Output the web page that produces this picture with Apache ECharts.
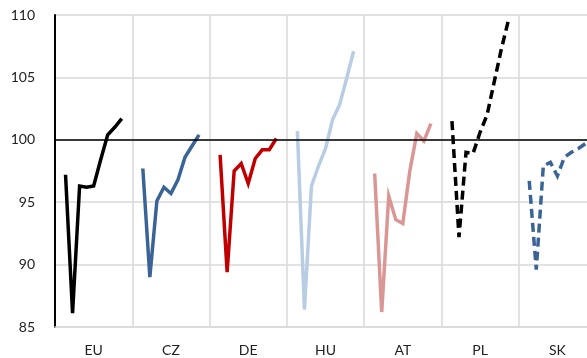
<!DOCTYPE html>
<html>
<head>
<meta charset="utf-8">
<script src="https://cdn.jsdelivr.net/npm/echarts@6/dist/echarts.min.js"></script>
<style>html,body{margin:0;padding:0;background:#fff;overflow:hidden;width:587px;height:358px;}#c{width:600px;height:358px;}</style>
</head>
<body>
<div id="c"></div>
<script>
// Categories (countries) and quarterly index values (2019 = 100), 2020Q1..2022Q1
var categories = ['EU', 'CZ', 'DE', 'HU', 'AT', 'PL', 'SK'];
var EU = [97.2, 86.1, 96.3, 96.2, 96.3, 98.4, 100.4, 101.0, 101.7];
var CZ = [97.7, 89.0, 95.1, 96.2, 95.7, 96.8, 98.6, 99.5, 100.4];
var DE = [98.8, 89.4, 97.5, 98.1, 96.5, 98.5, 99.2, 99.2, 100.1];
var HU = [100.7, 86.4, 96.3, 97.9, 99.3, 101.6, 102.8, 104.9, 107.1];
var AT = [97.3, 86.2, 95.5, 93.6, 93.3, 97.5, 100.5, 99.9, 101.3];
var PL = [101.5, 92.2, 99.0, 98.9, 100.6, 102.0, 104.6, 107.2, 109.5];
var SK = [96.7, 89.6, 97.9, 98.2, 97.1, 98.6, 99.0, 99.3, 99.7];
var yTicks = [85, 90, 95, 100, 105, 110];

var seriesValues = [EU, CZ, DE, HU, AT, PL, SK];
var colors = ['#000000', '#3A6496', '#C00000', '#B8CCE4', '#DA9694', '#000000', '#3A6496'];
var dashed = [false, false, false, false, false, true, true];

var slotsPerGroup = 11;
var slotNames = [];
for (var i = 0; i < categories.length * slotsPerGroup; i++) slotNames.push(String(i));

var series = seriesValues.map(function (vals, g) {
  var arr = slotNames.map(function () { return null; });
  vals.forEach(function (v, k) { arr[g * slotsPerGroup + 1 + k] = v; });
  return {
    name: categories[g],
    type: 'line',
    xAxisIndex: 1,
    data: arr,
    symbol: 'none',
    connectNulls: false,
    lineStyle: { color: colors[g], width: 3.5, type: dashed[g] ? [9, 5] : 'solid', cap: 'butt', join: 'miter' },
    z: 3
  };
});
series.push({
  type: 'line', xAxisIndex: 1, data: [], silent: true,
  markLine: {
    silent: true, symbol: 'none', label: { show: false },
    lineStyle: { color: '#000', width: 1.6, type: 'solid' },
    data: [{ yAxis: 100 }]
  },
  z: 2
});

var chart = echarts.init(document.getElementById('c'), null, { renderer: 'canvas' });
chart.setOption({
  animation: false,
  backgroundColor: '#fff',
  grid: { left: 55, top: 15, width: 541, height: 312, containLabel: false },
  xAxis: [{
    type: 'category',
    data: categories,
    boundaryGap: true,
    axisLine: { show: true, lineStyle: { color: '#D9D9D9', width: 1.5 } },
    axisTick: { show: false },
    splitLine: { show: true, lineStyle: { color: '#D9D9D9', width: 1.5 } },
    axisLabel: { color: '#222', fontSize: 14, fontFamily: 'Lato, "Liberation Sans", sans-serif', margin: 16 }
  }, {
    type: 'category',
    data: slotNames,
    boundaryGap: true,
    show: false
  }],
  yAxis: {
    type: 'value',
    min: yTicks[0],
    max: yTicks[yTicks.length - 1],
    interval: 5,
    axisLine: { show: true, lineStyle: { color: '#000', width: 2 } },
    axisTick: { show: false },
    splitLine: { show: true, lineStyle: { color: '#D9D9D9', width: 1.5 } },
    axisLabel: { color: '#222', fontSize: 14, fontFamily: 'Lato, "Liberation Sans", sans-serif', margin: 20 }
  },
  series: series
});
</script>
</body>
</html>
